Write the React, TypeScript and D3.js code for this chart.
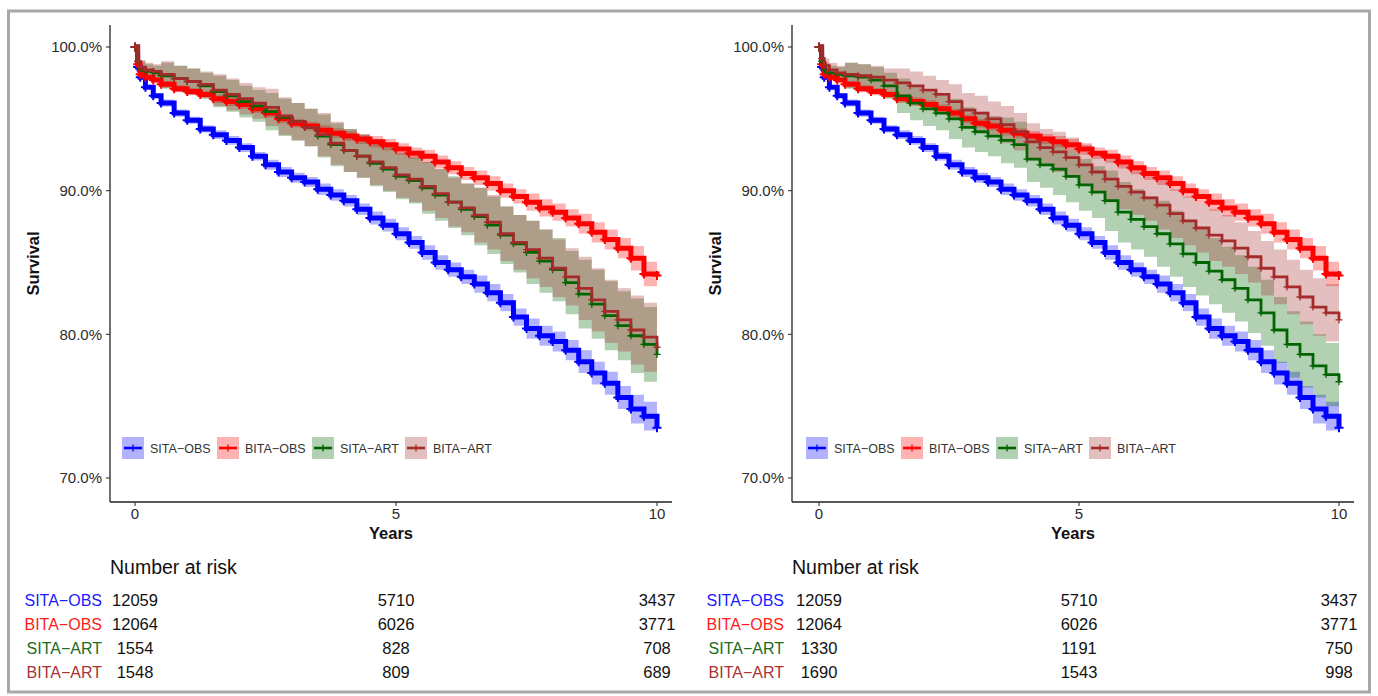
import React from "react";
import * as d3 from "d3";

const years = [0, 0.05, 0.1, 0.2, 0.35, 0.5, 0.75, 1, 1.25, 1.5, 1.75, 2, 2.25, 2.5, 2.75, 3, 3.25, 3.5, 3.75, 4,
  4.25, 4.5, 4.75, 5, 5.25, 5.5, 5.75, 6, 6.25, 6.5, 6.75, 7, 7.25, 7.5, 7.75, 8, 8.25, 8.5, 8.75, 9, 9.25, 9.5, 9.75, 10];

// survival (%) - observational cohorts, same in both panels
const sitaObsSurv = [100, 98.6, 97.9, 97.2, 96.6, 96.1, 95.4, 94.9, 94.3, 93.9, 93.5, 93.0, 92.4, 91.8, 91.3, 90.9, 90.6, 90.1, 89.7, 89.3,
  88.7, 88.1, 87.6, 87.0, 86.4, 85.7, 85.0, 84.5, 84.0, 83.5, 82.9, 82.2, 81.2, 80.4, 79.9, 79.5, 78.9, 78.1, 77.3, 76.6, 75.6, 74.8, 74.3, 73.5];
const bitaObsSurv = [100, 98.8, 98.1, 97.9, 97.7, 97.4, 97.1, 96.9, 96.7, 96.4, 96.2, 96.0, 95.7, 95.4, 95.0, 94.7, 94.5, 94.2, 94.0, 93.8,
  93.6, 93.4, 93.2, 92.9, 92.6, 92.4, 92.0, 91.6, 91.2, 90.9, 90.5, 90.0, 89.6, 89.2, 88.8, 88.5, 88.1, 87.7, 87.1, 86.6, 86.0, 85.3, 84.2, 84.1];

// survival (%) - ART trial arms, left panel
const sitaArtSurvA = [100, 99.0, 98.5, 98.3, 98.2, 98.0, 97.8, 97.6, 97.3, 96.9, 96.6, 96.2, 95.9, 95.5, 95.1, 94.8, 94.4, 93.8, 93.2, 92.8,
  92.4, 91.9, 91.5, 91.0, 90.7, 90.2, 89.7, 89.2, 88.7, 88.2, 87.6, 86.9, 86.3, 85.7, 85.1, 84.5, 83.6, 82.8, 82.1, 81.3, 80.6, 79.9, 79.3, 78.6];
const bitaArtSurvA = [100, 99.0, 98.6, 98.4, 98.3, 98.1, 97.8, 97.6, 97.4, 97.0, 96.7, 96.4, 96.1, 95.8, 95.2, 94.8, 94.4, 93.9, 93.3, 92.8,
  92.4, 92.0, 91.6, 91.1, 90.8, 90.3, 89.8, 89.2, 88.8, 88.3, 87.8, 87.0, 86.4, 85.9, 85.3, 84.6, 84.0, 83.2, 82.4, 81.6, 81.0, 80.3, 79.8, 79.1];

// survival (%) - ART trial arms, right panel
const sitaArtSurvB = [100, 99.0, 98.4, 98.2, 98.1, 98.0, 97.9, 97.7, 97.3, 96.6, 96.1, 95.7, 95.4, 95.0, 94.4, 94.1, 93.8, 93.5, 93.2, 92.2,
  91.8, 91.5, 91.0, 90.4, 89.9, 89.3, 88.5, 88.0, 87.5, 87.0, 86.3, 85.6, 85.0, 84.4, 83.8, 83.2, 82.4, 81.5, 80.3, 79.3, 78.6, 77.8, 77.2, 76.7];
const bitaArtSurvB = [100, 99.2, 98.7, 98.4, 98.2, 98.1, 98.0, 97.9, 97.7, 97.5, 97.3, 97.0, 96.7, 96.2, 95.6, 95.4, 95.0, 94.6, 94.1, 93.4,
  93.0, 92.7, 92.3, 91.8, 91.3, 90.8, 90.3, 89.9, 89.5, 89.0, 88.4, 87.9, 87.4, 86.9, 86.5, 86.0, 85.4, 84.6, 84.0, 83.3, 82.6, 81.9, 81.5, 81.0];

// 95% CI half width (% points) at whole years 0..10
const sitaObsCi = [0.1, 0.25, 0.3, 0.35, 0.4, 0.45, 0.5, 0.6, 0.7, 0.8, 1.0];
const bitaObsCi = [0.1, 0.25, 0.3, 0.3, 0.35, 0.4, 0.45, 0.5, 0.6, 0.7, 0.85];
const sitaArtCiA = [0.5, 0.9, 1.1, 1.3, 1.5, 1.6, 1.8, 2.0, 2.2, 2.4, 2.6];
const bitaArtCiA = [0.5, 0.9, 1.1, 1.3, 1.5, 1.6, 1.7, 1.9, 2.0, 2.2, 2.4];
const sitaArtCiB = [0.5, 0.9, 1.2, 1.4, 1.6, 1.8, 2.1, 2.3, 2.3, 2.3, 2.2];
const bitaArtCiB = [0.5, 0.8, 1.0, 1.2, 1.3, 1.4, 1.6, 1.7, 1.8, 1.9, 2.0];

// number at risk
const riskYears = [0, 5, 10];
const sitaObsRisk = [12059, 5710, 3437];
const bitaObsRisk = [12064, 6026, 3771];
const sitaArtRiskA = [1554, 828, 708];
const bitaArtRiskA = [1548, 809, 689];
const sitaArtRiskB = [1330, 1191, 750];
const bitaArtRiskB = [1690, 1543, 998];

const xTicks = [0, 5, 10];
const yTicks = [70, 80, 90, 100];

const FONT = "'Liberation Sans', Arial, Helvetica, sans-serif";

type Series = {
  name: string;
  surv: number[];
  ci: number[];
  risk: number[];
  color: string;
  text: string;
  thick: boolean;
};

const mk = (name: string, surv: number[], ci: number[], risk: number[], color: string, text: string, thick: boolean): Series =>
  ({ name, surv, ci, risk, color, text, thick });

const leftSeries: Series[] = [
  mk("SITA\u2212OBS", sitaObsSurv, sitaObsCi, sitaObsRisk, "#0000FF", "#1a1aff", true),
  mk("BITA\u2212OBS", bitaObsSurv, bitaObsCi, bitaObsRisk, "#FF0000", "#ff1a1a", true),
  mk("SITA\u2212ART", sitaArtSurvA, sitaArtCiA, sitaArtRiskA, "#006400", "#1d6b1d", false),
  mk("BITA\u2212ART", bitaArtSurvA, bitaArtCiA, bitaArtRiskA, "#A52A2A", "#a83434", false),
];
const rightSeries: Series[] = [
  mk("SITA\u2212OBS", sitaObsSurv, sitaObsCi, sitaObsRisk, "#0000FF", "#1a1aff", true),
  mk("BITA\u2212OBS", bitaObsSurv, bitaObsCi, bitaObsRisk, "#FF0000", "#ff1a1a", true),
  mk("SITA\u2212ART", sitaArtSurvB, sitaArtCiB, sitaArtRiskB, "#006400", "#1d6b1d", false),
  mk("BITA\u2212ART", bitaArtSurvB, bitaArtCiB, bitaArtRiskB, "#A52A2A", "#a83434", false),
];

type Pt = { t: number; s: number; hw: number };

const legendOffsets = [0, 95, 190, 283];
const plus = (r: number) => `M${-r},0h${2 * r}M0,${-r}v${2 * r}`;

function Panel({ axisX, x0, x1, series }: { axisX: number; x0: number; x1: number; series: Series[] }) {
  const x = d3.scaleLinear().domain([0, 10]).range([x0, x1]);
  const y = d3.scaleLinear().domain([70, 100]).range([478, 47]);
  const top = 25;
  const bottom = 502;
  const right = x(10) + 15;

  const pts = (s: Series): Pt[] => years.map((t, i) => ({ t, s: s.surv[i], hw: s.ci[Math.round(t)] }));
  const line = d3.line<Pt>().x((d) => x(d.t)).y((d) => y(d.s)).curve(d3.curveStepAfter);
  const band = d3
    .area<Pt>()
    .x((d) => x(d.t))
    .y0((d) => y(d.s - d.hw))
    .y1((d) => y(Math.min(100, d.s + d.hw)))
    .curve(d3.curveStepAfter);

  const legX = x(0) - 13;
  const rowY = [600, 624, 648, 672];

  return (
    <g>
      {/* confidence bands */}
      {series.map((s) => (
        <path key={"b" + s.name} d={band(pts(s)) || ""} fill={s.color} fillOpacity={0.3} stroke="none" />
      ))}
      {/* survival curves + censor marks */}
      {series.map((s) => (
        <g key={"l" + s.name}>
          <path d={line(pts(s)) || ""} fill="none" stroke={s.color} strokeWidth={s.thick ? 5 : 2.8} />
          {pts(s).map((p, i) => (
            <path key={i} transform={`translate(${x(p.t)},${y(p.s)})`} d={plus(s.thick ? 4.5 : 3.5)}
              stroke={s.color} strokeWidth={s.thick ? 2 : 1.3} fill="none" />
          ))}
        </g>
      ))}

      {/* axes */}
      <line x1={axisX} x2={axisX} y1={top} y2={bottom} stroke="#222" strokeWidth={1.3} />
      <line x1={axisX} x2={right} y1={bottom} y2={bottom} stroke="#222" strokeWidth={1.3} />
      {yTicks.map((v) => (
        <g key={"y" + v}>
          <line x1={axisX - 4} x2={axisX} y1={y(v)} y2={y(v)} stroke="#333" strokeWidth={1.1} />
          <text x={axisX - 8} y={y(v)} dy="0.36em" textAnchor="end" fontSize={15} fill="#2b2b2b">
            {d3.format(".1f")(v) + "%"}
          </text>
        </g>
      ))}
      {xTicks.map((v) => (
        <g key={"x" + v}>
          <line x1={x(v)} x2={x(v)} y1={bottom} y2={bottom + 4} stroke="#333" strokeWidth={1.1} />
          <text x={x(v)} y={519} textAnchor="middle" fontSize={15} fill="#2b2b2b">{v}</text>
        </g>
      ))}
      <text x={(axisX + right) / 2} y={539} textAnchor="middle" fontSize={16.5} fontWeight="bold" fill="#111">Years</text>
      <text transform={`translate(${axisX - 77},${(top + bottom) / 2}) rotate(-90)`} dy="0.36em" textAnchor="middle"
        fontSize={16.5} fontWeight="bold" fill="#111">Survival</text>

      {/* legend */}
      {series.map((s, i) => {
        const lx = legX + legendOffsets[i];
        return (
          <g key={"k" + s.name} transform={`translate(${lx},437)`}>
            <rect width={22} height={22} fill={s.color} fillOpacity={0.3} />
            <line x1={2} x2={20} y1={11} y2={11} stroke={s.color} strokeWidth={2.6} />
            <line x1={11} x2={11} y1={7.5} y2={14.5} stroke={s.color} strokeWidth={1.3} />
            <text x={28} y={11} dy="0.36em" fontSize={12.5} fill="#333">{s.name}</text>
          </g>
        );
      })}

      {/* number at risk table */}
      <text x={axisX} y={574} fontSize={19.5} fill="#111">Number at risk</text>
      {series.map((s, i) => (
        <g key={"r" + s.name}>
          <text x={axisX - 8} y={rowY[i]} dy="0.36em" textAnchor="end" fontSize={16} fill={s.text}>{s.name}</text>
          {riskYears.map((t, j) => (
            <text key={t} x={x(t)} y={rowY[i]} dy="0.36em" textAnchor="middle" fontSize={16.5} fill="#111">
              {s.risk[j]}
            </text>
          ))}
        </g>
      ))}
    </g>
  );
}

export default function App() {
  return (
    <svg width={1378} height={696} style={{ position: "absolute", left: 0, top: 0, background: "#fff" }}
      fontFamily={FONT}>
      <rect x={0} y={0} width={1378} height={696} fill="#fff" />
      <rect x={8.5} y={11} width={1361} height={681} fill="none" stroke="#a8a8a8" strokeWidth={3} />
      <Panel axisX={110} x0={135} x1={657} series={leftSeries} />
      <Panel axisX={792} x0={819} x1={1339} series={rightSeries} />
    </svg>
  );
}
